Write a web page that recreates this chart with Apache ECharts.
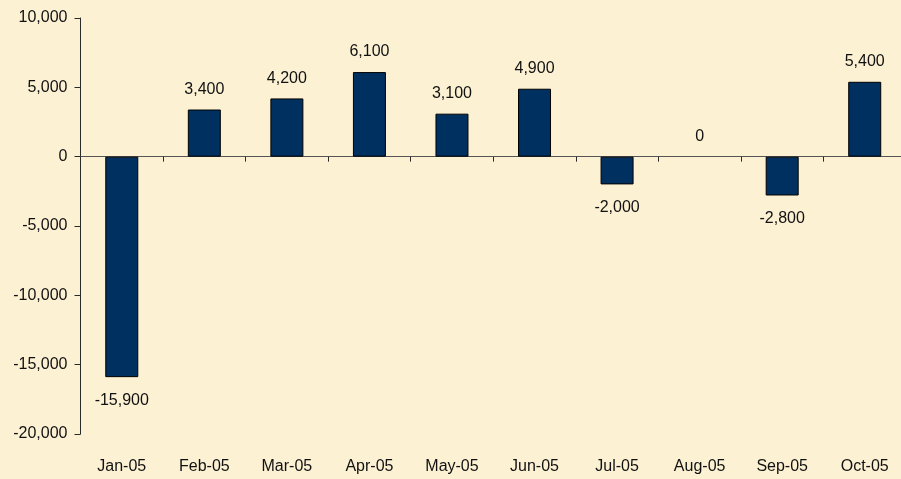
<!DOCTYPE html>
<html>
<head>
<meta charset="utf-8">
<script src="https://cdn.jsdelivr.net/npm/echarts@6/dist/echarts.min.js"></script>
<style>
  html, body { margin: 0; padding: 0; background: #fcf1d3; overflow: hidden; }
  /* a bit wider than the window: the plot runs past the right edge like the original */
  #chart { width: 906px; height: 479px; }
</style>
</head>
<body>
<div id="chart"></div>
<script>
const months = ["Jan-05", "Feb-05", "Mar-05", "Apr-05", "May-05", "Jun-05", "Jul-05", "Aug-05", "Sep-05", "Oct-05"];
const values = [-15900, 3400, 4200, 6100, 3100, 4900, -2000, 0, -2800, 5400];
const yTicks = { min: -20000, max: 10000, step: 5000 };

const fmt = (v) => Number(v).toLocaleString("en-US");
const font = "Liberation Sans, Arial, sans-serif";

const myEchart = echarts.init(document.getElementById("chart"));

// negative bars get their label under the bar, a zero bar draws no outline
const barData = values.map((v) => ({
  value: v,
  label: v < 0 ? { position: "bottom", distance: 15 } : { position: "top", distance: 12 },
  itemStyle: v === 0 ? { borderWidth: 0 } : undefined,
}));

myEchart.setOption({
  backgroundColor: "#fcf1d3",
  animation: false,
  grid: { left: 80.5, right: 0, top: 18, bottom: 45 },
  xAxis: [
    {
      // line + ticks sitting on zero
      type: "category",
      data: months,
      axisLine: { onZero: true, lineStyle: { color: "#555", width: 1 } },
      axisTick: { show: true, length: 5, lineStyle: { color: "#2a2a2a" } },
      axisLabel: { show: false },
    },
    {
      // labels at the bottom of the plot
      type: "category",
      data: months,
      position: "bottom",
      axisLine: { show: false, onZero: false },
      axisTick: { show: false },
      axisLabel: { color: "#111", fontFamily: font, fontSize: 16, margin: 25 },
    },
  ],
  yAxis: {
    type: "value",
    min: yTicks.min,
    max: yTicks.max,
    interval: yTicks.step,
    splitLine: { show: false },
    axisLine: { show: true, lineStyle: { color: "#2a2a2a" } },
    axisTick: { show: true, length: 6, lineStyle: { color: "#2a2a2a" } },
    axisLabel: { color: "#111", fontFamily: font, fontSize: 16, margin: 13, formatter: fmt },
  },
  series: [
    {
      type: "bar",
      xAxisIndex: 0,
      data: barData,
      barWidth: 33,
      itemStyle: { color: "#00305f", borderColor: "#000", borderWidth: 1 },
      label: {
        show: true,
        color: "#111",
        fontFamily: font,
        fontSize: 16,
        formatter: (p) => fmt(p.value),
      },
    },
  ],
});
</script>
</body>
</html>
